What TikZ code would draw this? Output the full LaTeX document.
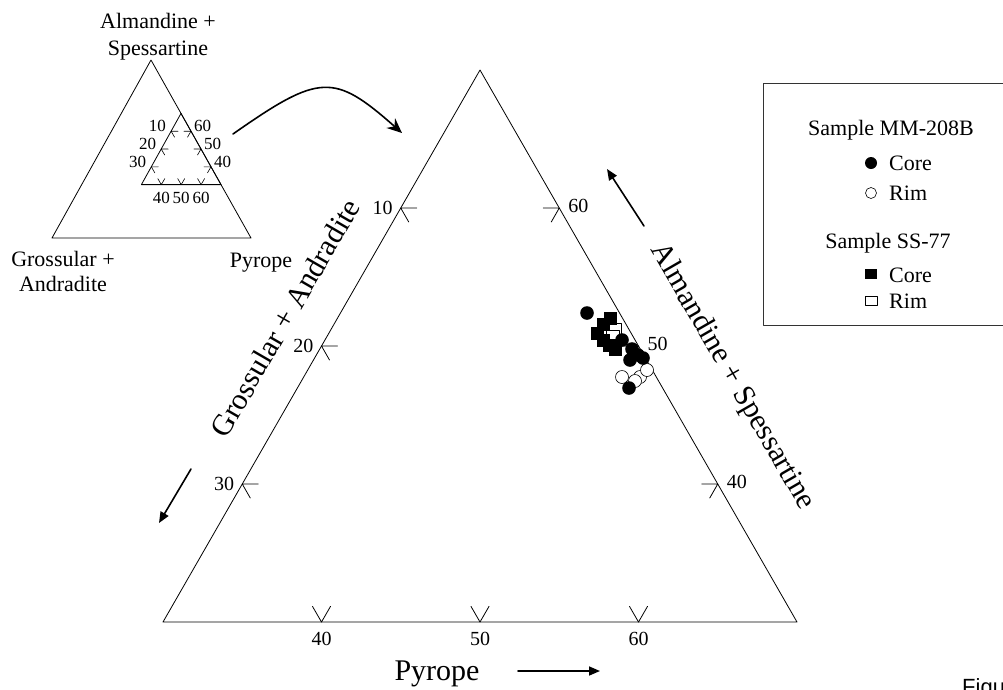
\documentclass[tikz,border=0pt]{standalone}
\usepackage{fontspec}
\setmainfont{Liberation Serif}
\newfontfamily\figfont{Liberation Sans}
\usetikzlibrary{arrows.meta,calc}

\begin{document}
\begin{tikzpicture}[line cap=round,line join=round,>={Triangle[length=11pt,width=9pt]},x=1pt,y=1pt,
  ticklab/.style={font=\fontsize{20}{24}\selectfont,inner sep=0pt},
  minilab/.style={font=\fontsize{17}{20}\selectfont,inner sep=0pt},
  keylab/.style={font=\fontsize{22}{26}\selectfont,inner sep=0pt},
  axislab/.style={font=\fontsize{30}{34}\selectfont,inner sep=0pt},
  core/.style={fill=black},
  rim/.style={fill=white,draw=black,line width=0.6pt}]
\useasboundingbox (0,-689) rectangle (1003,0);
\clip (0,-689) rectangle (1003,0);

% key triangle
\coordinate (ka) at (52,-238);
\coordinate (kb) at (251,-238);
\coordinate (kc) at (151,-60);
\coordinate (ia) at ($0.3*(kc)+0.4*(ka)+0.3*(kb)$);
\coordinate (ib) at ($(kc)!0.7!(kb)$);
\coordinate (ic) at ($(kc)!0.3!(kb)$);
\draw[line width=0.8pt] (ka) -- (kb) -- (kc) -- cycle;
\draw[line width=0.8pt] (ia) -- (ib) -- (ic) -- cycle;
\foreach \f/\t in {0.75/10,0.5/20,0.25/30} {
  \draw[line width=0.6pt] ($(ia)!\f!(ic)$) coordinate (mg\t) -- ++(7,0) (mg\t) -- ++(3.5,-6);
  \node[minilab,anchor=east] (mgl\t) at ($(mg\t)+(-5,5)$) {\t};
}
\foreach \f/\t in {0.75/60,0.5/50,0.25/40} {
  \draw[line width=0.6pt] ($(ib)!\f!(ic)$) coordinate (ma\t) -- ++(-7,0) (ma\t) -- ++(-3.5,-6);
  \node[minilab,anchor=west] (mal\t) at ($(ma\t)+(3,5)$) {\t};
}
\foreach \f/\t in {0.25/40,0.5/50,0.75/60} {
  \draw[line width=0.6pt] ($(ia)!\f!(ib)$) coordinate (mp\t) ++(-3.5,6) -- (mp\t) -- ++(3.5,6);
  \node[minilab,anchor=north] (mpl\t) at ($(mp\t)+(0,-7)$) {\t};
}
\node[keylab,anchor=base] (kalm) at (158,-28) {Almandine +};
\node[keylab,anchor=base] (kspe) at (158,-55) {Spessartine};
\node[keylab,anchor=base] (kgro) at (63,-266) {Grossular +};
\node[keylab,anchor=base] (kand) at (63,-291) {Andradite};
\node[keylab,anchor=base] (kpyr) at (261,-267) {Pyrope};

\coordinate (bend0) at (233,-134);
\coordinate (bend1) at (402,-133);
\draw[line width=1.6pt,-{Stealth[length=15pt,width=13pt,inset=5pt]}] (bend0) .. controls (320,-73) and (334,-73) .. (bend1);

% main triangle
\coordinate (A) at (163,-622);
\coordinate (B) at (797,-622);
\coordinate (C) at (480,-70);
\draw[line width=0.8pt] (A) -- (B) -- (C) -- cycle;
\foreach \f/\t in {0.75/10,0.5/20,0.25/30} {
  \draw[line width=0.8pt] ($(A)!\f!(C)$) coordinate (g\t) -- ++(16,0) (g\t) -- ++(8,-14);
  \node[ticklab,anchor=east] (gl\t) at ($(g\t)+(-8,0)$) {\t};
}
\foreach \f/\t in {0.75/60,0.5/50,0.25/40} {
  \draw[line width=0.8pt] ($(B)!\f!(C)$) coordinate (a\t) -- ++(-16,0) (a\t) -- ++(-8,-14);
  \node[ticklab,anchor=west] (al\t) at ($(a\t)+(9,2)$) {\t};
}
\foreach \f/\t in {0.25/40,0.5/50,0.75/60} {
  \draw[line width=0.8pt] ($(A)!\f!(B)$) coordinate (p\t) ++(-9,15.6) -- (p\t) -- ++(9,15.6);
  \node[ticklab,anchor=north] (pl\t) at ($(p\t)+(0,-10)$) {\t};
}

\node[axislab,rotate=60] (grolab) at (285,-318) {Grossular + Andradite};
\node[axislab,rotate=-60] (almlab) at (732,-377) {Almandine + Spessartine};
\node[axislab,anchor=base] (pyrlab) at (437,-680) {Pyrope};

\coordinate (gro0) at (191,-469);
\coordinate (gro1) at (159,-523);
\coordinate (alm0) at (644,-226);
\coordinate (alm1) at (607,-169);
\coordinate (pyr0) at (518,-671);
\coordinate (pyr1) at (600,-671);
\draw[line width=1.6pt,->] (gro0) -- (gro1);
\draw[line width=1.6pt,->] (alm0) -- (alm1);
\draw[line width=1.6pt,->] (pyr0) -- (pyr1);

% data
\foreach \x/\y in {622/377,640/377,647/370,635/381}
  \draw[rim] (\x,-\y) circle (6.5);
\foreach \x/\y in {615/330,613/337}
  \draw[rim] (\x-6.5,-\y-6.5) rectangle (\x+6.5,-\y+6.5);
\foreach \x/\y in {610/318,603/324,597/333,603/340,615/349,609/345}
  \fill[core] (\x-6.5,-\y-6.5) rectangle (\x+6.5,-\y+6.5);
\foreach \x/\y in {587/313,622/340,632/349,638/355,643/358,630/360,629/388}
  \fill[core] (\x,-\y) circle (6.8);

% key
\draw[line width=1pt,black!80] (763,-83) rectangle (1010,-325);
\node[keylab] (mmhead) at (891,-130) {Sample MM-208B};
\fill (871,-163) circle (6);
\node[keylab,anchor=west] (mmcore) at (889,-163) {Core};
\draw[line width=0.6pt] (871,-193) circle (5.5);
\node[keylab,anchor=west] (mmrim) at (889,-193) {Rim};
\node[keylab] (sshead) at (888,-243) {Sample SS-77};
\fill (865,-279) rectangle (877,-269);
\node[keylab,anchor=west] (sscore) at (889,-275) {Core};
\draw[line width=0.6pt] (865,-305) rectangle (877,-296);
\node[keylab,anchor=west] (ssrim) at (889,-301) {Rim};

\node[font=\figfont\fontsize{22}{24}\selectfont,anchor=north west,inner sep=0pt] (fig) at (962,-678) {Figure};
\end{tikzpicture}
\end{document}
